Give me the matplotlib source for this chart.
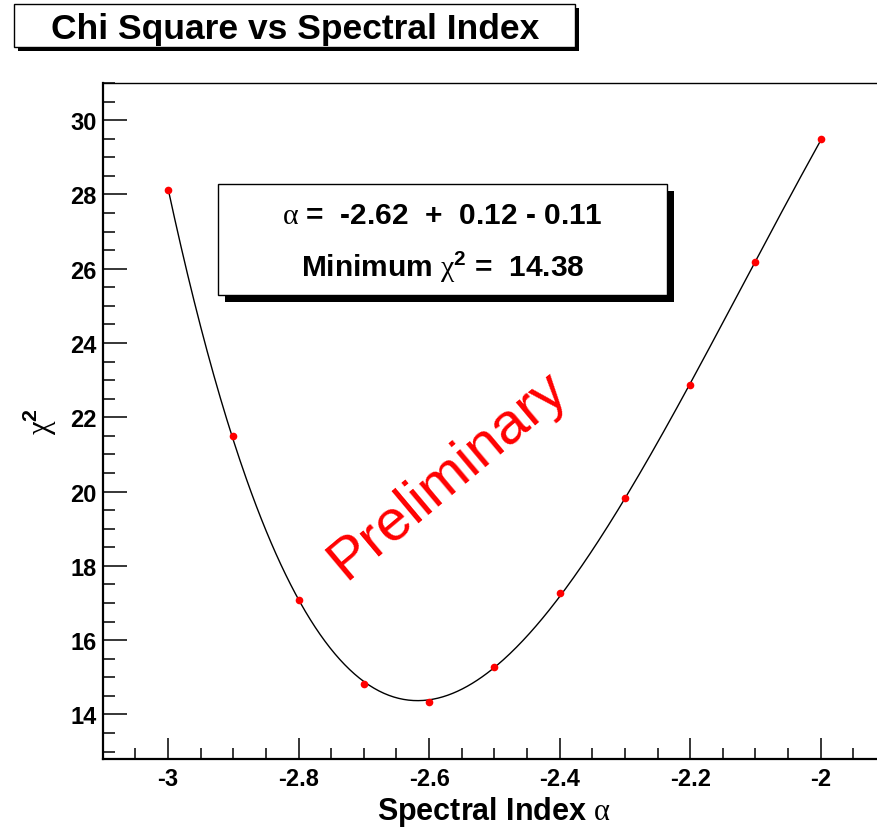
import numpy as np
import matplotlib
matplotlib.use('Agg')
import matplotlib.pyplot as plt
from matplotlib.patches import Rectangle
from matplotlib.ticker import MultipleLocator

# scan of the spectral index and the chi square at each step
alpha = [-3.0, -2.9, -2.8, -2.7, -2.6, -2.5, -2.4, -2.3, -2.2, -2.1, -2.0]
chi2 = [28.12, 21.50, 17.08, 14.83, 14.34, 15.27, 17.27, 19.82, 22.87, 26.17, 29.48]

fit_text = [r'$\mathsf{\alpha}$ =  -2.62  +  0.12 - 0.11',
            r'Minimum $\mathsf{\chi}^2$ =  14.38']

W, H = 877, 828

plt.rcParams['font.family'] = ['Liberation Sans', 'DejaVu Sans']
plt.rcParams['font.weight'] = 'bold'
plt.rcParams['mathtext.fontset'] = 'custom'
plt.rcParams['mathtext.rm'] = 'Liberation Sans:bold'
plt.rcParams['mathtext.bf'] = 'Liberation Sans:bold'
plt.rcParams['mathtext.it'] = 'Liberation Sans:bold'
# greek letters are set in a plain serif face
plt.rcParams['mathtext.sf'] = 'Liberation Serif:weight=normal'


def px(x, y):
    # pixel position (from top left) -> figure fraction
    return x / W, 1 - y / H


def shadow_box(x0, y0, x1, y1, off):
    fig.add_artist(Rectangle(px(x0 + off, y1 + off), (x1 - x0) / W, (y1 - y0) / H,
                             transform=fig.transFigure, facecolor='black', edgecolor='none'))
    fig.add_artist(Rectangle(px(x0, y1), (x1 - x0) / W, (y1 - y0) / H,
                             transform=fig.transFigure, facecolor='white', edgecolor='black',
                             linewidth=1.0))


fig = plt.figure(figsize=(W / 100, H / 100), dpi=100)
ax = fig.add_axes([102.7 / W, 68 / H, (886 - 102.7) / W, (760 - 84) / H])

# polynomial fit through the scan
coef = np.polyfit(alpha, chi2, 4)
xs = np.linspace(alpha[0], alpha[-1], 400)
ax.plot(xs, np.polyval(coef, xs), color='black', linewidth=1.0, zorder=2)
ax.plot(alpha, chi2, linestyle='none', marker='o', markersize=5.5, color='red',
        markeredgewidth=0, zorder=3)

ax.set_xlim(-3.1, -1.9)
ax.set_ylim(12.8, 31.0)

ax.xaxis.set_major_locator(MultipleLocator(0.2))
ax.xaxis.set_minor_locator(MultipleLocator(0.05))
ax.yaxis.set_major_locator(MultipleLocator(2))
ax.yaxis.set_minor_locator(MultipleLocator(0.5))
ax.xaxis.set_major_formatter(plt.FuncFormatter(lambda v, p: '%g' % round(v, 2)))

ax.tick_params(axis='both', which='both', direction='in', top=False, right=False,
               labelsize=17, width=1.1)
ax.tick_params(axis='x', which='major', length=15, pad=6)
ax.tick_params(axis='x', which='minor', length=7.7)
ax.tick_params(axis='y', which='major', length=17.3, pad=4.3)
ax.tick_params(axis='y', which='minor', length=8.9)

for side in ['left', 'bottom']:
    ax.spines[side].set_linewidth(1.6)
ax.spines['top'].set_linewidth(1.0)

ax.set_xlabel(r'Spectral Index $\mathsf{\alpha}$', fontsize=22, fontweight='bold',
              va='baseline')
ax.xaxis.set_label_coords(0.5, -0.0888)
ax.set_ylabel(r'$\mathsf{\chi}^2$', fontsize=22, fontweight='bold', va='center',
              ha='center')
ax.yaxis.set_label_coords(-0.080, 0.5)

# title box
shadow_box(14, 5, 575, 48, 3.5)
fig.text(*px(295, 39), 'Chi Square vs Spectral Index', fontsize=25.5,
         ha='center', va='baseline')

# fit result box
shadow_box(218, 185, 667, 296, 7)
fig.text(*px(442.5, 224), fit_text[0], fontsize=21.5, ha='center', va='baseline')
fig.text(*px(442.5, 277), fit_text[1], fontsize=21.5, ha='center', va='baseline')

fig.text(*px(346, 581), 'Preliminary', fontsize=42, color='red', fontweight='normal',
         rotation=40, rotation_mode='anchor', ha='left', va='baseline')

fig.savefig('out.png', dpi=100)
